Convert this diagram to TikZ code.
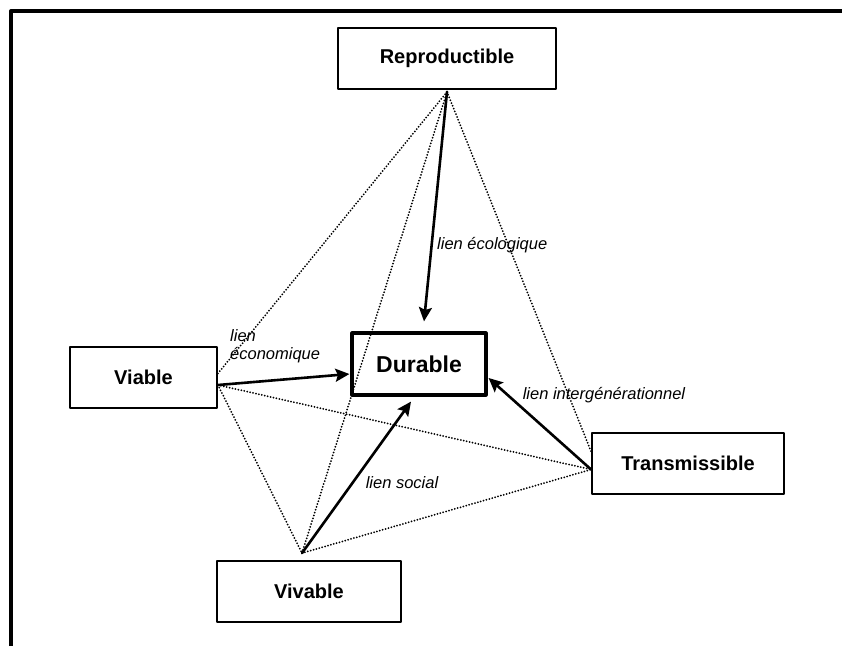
\documentclass[tikz,border=0pt]{standalone}
\usepackage{fontspec}
\setmainfont{Liberation Sans}
\usetikzlibrary{arrows.meta}
\begin{document}
\begin{tikzpicture}[x=1pt,y=-1pt,line join=round,line cap=round,>={Stealth[length=14pt,width=13pt,inset=2.5pt]},
	boite/.style={draw,line width=1.8pt,minimum height=61pt,inner sep=0pt,font=\bfseries\fontsize{20}{24}\selectfont},
	lien/.style={font=\itshape\fontsize{16.5}{18}\selectfont,inner sep=0pt,align=left},
	fleche/.style={->,line width=2.6pt},
	pointille/.style={line width=2pt,dash pattern=on 0pt off 3pt}]
			%%%Cadre
			\useasboundingbox(0,0)rectangle(842,646);
			\draw[line width=4pt,line cap=butt](11,646)--(11,11)--(842,11);
			%%%Cases
			\node[boite,minimum width=218pt](R)at(447,58.5){Reproductible};
			\node[boite,minimum width=147pt](Vi)at(143.5,377.5){Viable};
			\node[boite,minimum width=134pt,minimum height=62pt,line width=3.2pt,font=\bfseries\fontsize{23}{27}\selectfont](D)at(419,364){Durable};
			\node[boite,minimum width=192pt](T)at(688,463.5){Transmissible};
			\node[boite,minimum width=184pt](Vv)at(309,591.5){Vivable};
			\coordinate(r)at([yshift=-2pt]R.south);
			\coordinate(vi)at([yshift=-7.5pt]Vi.east);
			\coordinate(vih)at([yshift=4pt]Vi.east);
			\coordinate(vv)at([xshift=-7pt,yshift=7pt]Vv.north);
			\coordinate(t)at([yshift=-6pt]T.west);
			\coordinate(th)at([yshift=12pt]T.west);
			%%%Liens
			\foreach \a/\b in{r/vih,r/vv,r/th,vi/t,vi/vv,vv/t}
			\draw[pointille](\a)--(\b);
			\draw[fleche](r)--([xshift=5pt,yshift=10pt]D.north);
			\draw[fleche](vi)--([xshift=-1pt,yshift=-10pt]D.west);
			\draw[fleche](vv)--([xshift=-8pt,yshift=-5pt]D.south);
			\draw[fleche](t)--([xshift=1pt,yshift=-14pt]D.east);
			\node[lien,anchor=west](le)at(437,245){lien écologique};
			\node[lien,anchor=west](lc)at(230,346){lien\\économique};
			\node[lien](ls)at(402,483){lien social};
			\node[lien](li)at(604,395){lien intergénérationnel};
	\end{tikzpicture}
\end{document}
